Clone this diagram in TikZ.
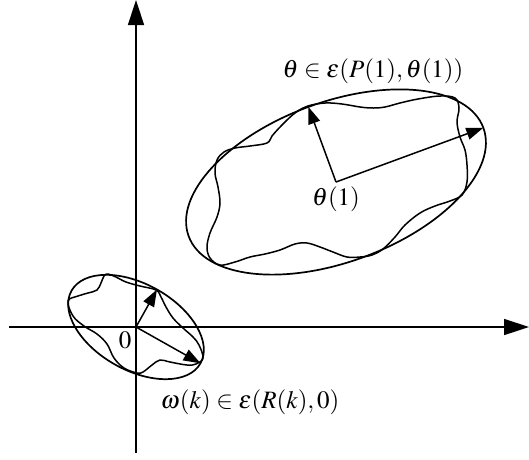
\documentclass[tikz,border=0pt]{standalone}
\usepackage{mathptmx}
\usetikzlibrary{arrows.meta}
\begin{document}
\begin{tikzpicture}[x=1pt,y=-1pt,
  axisline/.style={line width=1.5pt,-{Triangle[length=25pt,width=16pt]}},
  vecline/.style={line width=1.5pt,-{Triangle[length=17pt,width=12pt]}},
  outline/.style={line width=1.7pt},
  wavy/.style={line width=1.5pt},
  lbl/.style={font=\fontsize{25}{29}\selectfont, inner sep=0pt}]
\useasboundingbox (0,0) rectangle (529,459);
% axes
\coordinate (xs) at (9,327);
\coordinate (xe) at (529,327);
\coordinate (ys) at (136,453);
\coordinate (ye) at (136,0);
\draw[axisline] (xs) -- (xe);
\draw[axisline] (ys) -- (ye);
% small ellipse
\coordinate (o) at (136,327);
\coordinate (oa) at (157,289.5);
\coordinate (ob) at (200.5,363.3);
\draw[outline] (o) ellipse [x radius=74pt, y radius=43pt, rotate=-29.4];
\draw[wavy] plot[smooth cycle, tension=0.6] coordinates {
 (68,301) (78,296) (88,293) (97,290) (101,283) (104,276) (108,274)
 (116,277) (126,282) (140,286) (156,290) (161,297) (166,307) (173,318)
 (183,328) (193,337) (199,345) (203,358) (196,364) (187,365) (170,362)
 (160,360) (152,365) (143,372) (137,373) (124,368) (114,358) (107,344)
 (97,334) (84,326) (73,316)};
\draw[vecline] (o) -- (oa);
\draw[vecline] (o) -- (ob);
% big ellipse
\coordinate (c) at (336,182);
\coordinate (ca) at (308.4,106.9);
\coordinate (cb) at (483.3,127.8);
\draw[outline] (c) ellipse [x radius=157pt, y radius=80pt, rotate=20.2];
\draw[wavy] plot[smooth cycle, tension=0.6] coordinates {
 (308,106) (325,103) (342,104) (360,107) (373,108) (385,107) (400,103)
 (418,99) (440,96) (455,98) (459,108) (457,122) (460,137) (465,150)
 (467,165) (467,182) (462,195) (450,201) (435,206) (420,213) (405,225)
 (395,237) (383,249) (372,255) (360,257) (347,257) (333,252) (320,247)
 (307,243) (295,244) (280,250) (265,254) (250,257) (235,262) (220,265)
 (210,258) (207,247) (210,233) (217,217) (220,203) (218,187) (215,173)
 (217,160) (224,152) (235,148) (250,146) (267,143) (272,136) (282,125)
 (295,113)};
\draw[vecline] (c) -- (ca);
\draw[vecline] (c) -- (cb);
% labels
\node[lbl] (zero) at (125,340) {$0$};
\node[lbl] (tlab) at (373,71) {$\theta\in\varepsilon(P(1),\theta(1))$};
\node[lbl] (clab) at (336,199) {$\theta(1)$};
\node[lbl] (wlab) at (250,402) {$\omega(k)\in\varepsilon(R(k),0)$};
\end{tikzpicture}
\end{document}
